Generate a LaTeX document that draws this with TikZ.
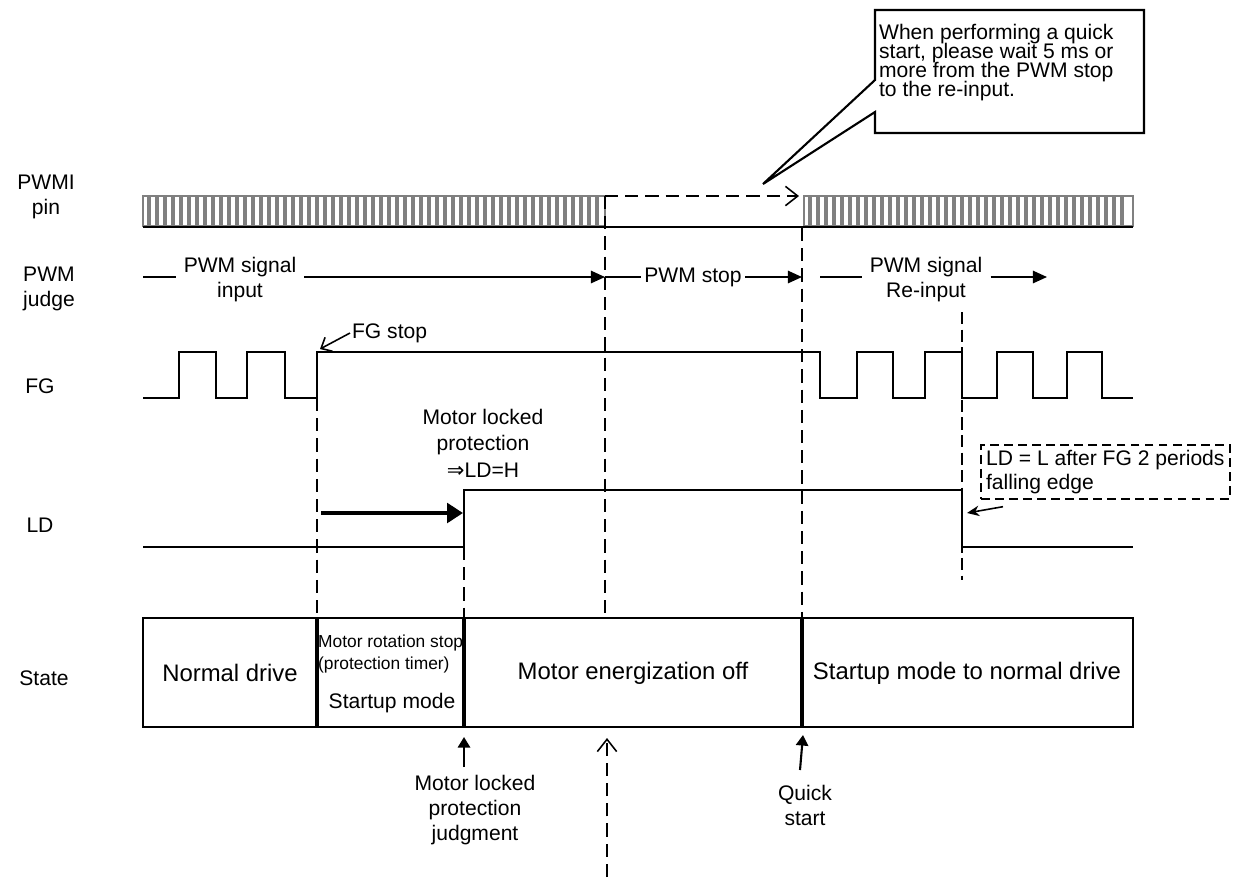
\documentclass[tikz,border=0pt]{standalone}
\usepackage{fontspec}
\setmainfont{Liberation Sans}
\newfontfamily\symfont{DejaVu Sans}
\usetikzlibrary{positioning,arrows.meta,calc}
\definecolor{HatchGray}{RGB}{128,128,128}
\lineskiplimit=-20pt
\tikzset{
  lbl/.style={font=\fontsize{12}{14.2}\selectfont,inner sep=1pt,align=center},
  sidelbl/.style={lbl,align=center},
  judgelbl/.style={lbl,inner xsep=4.5pt},
  statetxt/.style={font=\fontsize{13.6}{15}\selectfont,inner sep=1pt},
  smalltxt/.style={font=\fontsize{9.9}{12.5}\selectfont,inner sep=1pt,align=left},
  notetxt/.style={font=\fontsize{12}{10.9}\selectfont,inner sep=1pt,align=left},
  ldbox/.style={draw,line width=0.9pt,dash pattern=on 5pt off 3pt,
    font=\fontsize{12}{13.6}\selectfont,
    inner xsep=3pt,inner ysep=3pt,align=left},
  callout/.style={draw,fill=white,line width=1.2pt},
  wave/.style={line width=1.4pt},
  ldline/.style={line width=1.1pt},
  barframe/.style={draw=HatchGray,line width=1pt},
  evline/.style={line width=0.9pt,dash pattern=on 7.5pt off 4pt},
  ldash/.style={line width=0.8pt,dash pattern=on 7pt off 3pt},
  judgeline/.style={line width=1.1pt},
  judgearr/.style={line width=1.1pt,-{Triangle[length=8pt,width=7pt]}},
  boldarr/.style={line width=2.3pt,-{Triangle[length=9pt,width=11pt]}},
  uparr/.style={line width=1.2pt,-{Triangle[length=6pt,width=7pt]}},
  thinarr/.style={line width=0.9pt,-{Straight Barb[length=5pt,width=9pt]}},
  ptrarr/.style={line width=0.9pt,-{Stealth[length=7pt,width=6pt]}},
  openarr/.style={-{Straight Barb[length=7pt,width=11pt]}},
  statebox/.style={line width=1.1pt},
  divider/.style={line width=1.8pt}
}

\begin{document}
\begin{tikzpicture}[x=0.02cm,y=-0.02cm]
  \useasboundingbox (0,0) rectangle (1250,877);

  \node[sidelbl] (lpwmi) at (46,197) {PWMI\\pin};
  \node[sidelbl] (ljudge) at (49,289) {PWM\\judge};
  \node[sidelbl] (lfg) at (40,386) {FG};
  \node[sidelbl] (lld) at (40,525) {LD};
  \node[sidelbl] (lstate) at (44,678) {State};

  \coordinate (tstop) at (317,398);
  \coordinate (tlock) at (464,547);
  \coordinate (tpwm) at (605,196);
  \coordinate (tquick) at (802,228);
  \coordinate (tld) at (962,312);
  \coordinate (twait) at (799,196);
  \coordinate (judge) at (0,277);
  \coordinate (stop) at (0,618);

  \draw[barframe] (143,196) rectangle (605,226);
  \foreach \x in {147,155,...,599}
    \fill[HatchGray] (\x,196) rectangle +(4,30);
  \draw[barframe] (804,196) rectangle (1133,226);
  \foreach \x in {808,816,...,1127}
    \fill[HatchGray] (\x,196) rectangle +(4,30);
  \draw[ldline] (143,227) -- (1133,227);

  \draw[evline] (tstop) -- (tstop |- stop);
  \draw[evline] (tlock) -- (tlock |- stop);
  \draw[evline] (tpwm) -- (tpwm |- stop);
  \draw[evline] (tquick) -- (tquick |- stop);
  \draw[ldash] (tld) -- (962,580);
  \draw[evline,openarr] (tpwm) -- (twait);

  \node[judgelbl] (sigin) at (240,280) {PWM signal\\input};
  \node[lbl,inner xsep=2pt] (stoplbl) at (693,277) {PWM stop};
  \node[judgelbl] (reinlbl) at (926,280) {PWM signal\\Re-input};
  \coordinate (jstart) at (143,277);
  \coordinate (rstart) at (820,277);
  \coordinate (rend) at (1047,277);
  \draw[judgeline] (jstart) -- (sigin.west |- judge);
  \draw[judgearr] (sigin.east |- judge) -- (tpwm |- judge);
  \draw[judgeline] (tpwm |- judge) -- (stoplbl.west);
  \draw[judgearr] (stoplbl.east) -- (tquick |- judge);
  \draw[judgeline] (rstart) -- (reinlbl.west |- judge);
  \draw[judgearr] (reinlbl.east |- judge) -- (rend);

  \draw[wave] (143,398) -- (179,398) -- (179,352) -- (216,352) -- (216,398)
    -- (247,398) -- (247,352) -- (285,352) -- (285,398) -- (317,398)
    -- (317,352) -- (820,352) -- (820,398) -- (857,398) -- (857,352)
    -- (893,352) -- (893,398) -- (925,398) -- (925,352) -- (962,352)
    -- (962,398) -- (997,398) -- (997,352) -- (1033,352) -- (1033,398)
    -- (1067,398) -- (1067,352) -- (1102,352) -- (1102,398) -- (1133,398);
  \node[lbl,anchor=west] (fgstop) at (350,333) {FG stop};
  \coordinate (fgtip) at (320,349);
  \draw[thinarr] (fgstop.west) -- (fgtip);

  \draw[ldline] (143,547) -- (464,547) -- (464,490) -- (962,490) -- (962,547) -- (1133,547);
  \coordinate (lockfrom) at (321,513);
  \coordinate (lockto) at (463,513);
  \draw[boldarr] (lockfrom) -- (lockto);
  \node[lbl,font=\fontsize{12}{15}\selectfont] (lockH) at (483,443)
    {Motor locked\\protection\\{\symfont ⇒}LD=H};

  \node[ldbox,anchor=north west] (ldnote) at (980,444)
    {LD = L after FG 2 periods\\falling edge};
  \coordinate (ldtip) at (967,513);
  \draw[ptrarr] ($(ldnote.south west)+(23,7)$) -- (ldtip);

  \draw[statebox] (143,618) rectangle (1133,727);
  \draw[divider] (tstop |- stop) -- (317,727);
  \draw[divider] (tlock |- stop) -- (464,727);
  \draw[divider] (tquick |- stop) -- (802,727);
  \node[statetxt] (snormal) at (230,673) {Normal drive};
  \node[smalltxt,anchor=north west] (srot) at (316,633)
    {Motor rotation stop\\(protection timer)};
  \node[lbl] (sstart) at (392,703) {Startup mode};
  \node[statetxt] (soff) at (633,673) {Motor energization off};
  \node[statetxt] (snorm2) at (967,673) {Startup mode to normal drive};

  \node[lbl] (judg) at (475,810) {Motor locked\\protection\\judgment};
  \draw[uparr] (464,767) -- (464,737);
  \coordinate (bottom) at (607,877);
  \draw[evline,openarr] (bottom) -- (607,738);
  \node[lbl] (quick) at (805,805) {Quick\\start};
  \draw[uparr] (800,770) -- (803,735);

  \coordinate (tipq) at (763,184);
  \draw[callout] (875,80) -- (875,10) -- (1144,10) -- (1144,133) -- (875,133)
    -- (875,112) -- (tipq) -- cycle;
  \node[notetxt,anchor=north west] (note) at (877,22)
    {When performing a quick\\start, please wait 5 ms or\\more from the PWM stop\\to the re-input.};
\end{tikzpicture}
\end{document}
